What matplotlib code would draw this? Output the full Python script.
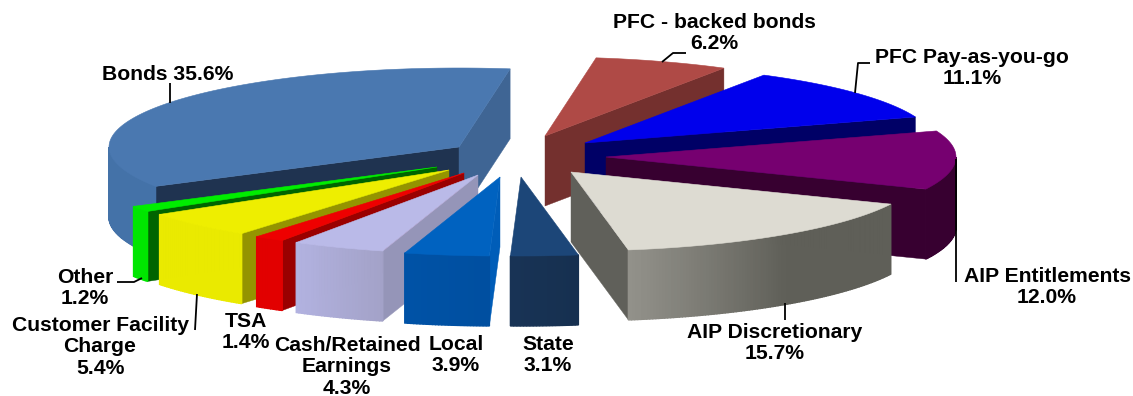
import numpy as np
import matplotlib
matplotlib.use("Agg")
import matplotlib.pyplot as plt
from matplotlib.colors import LinearSegmentedColormap, to_rgb

categories = ["Bonds", "PFC - backed bonds", "PFC Pay-as-you-go", "AIP Entitlements",
              "AIP Discretionary", "State", "Local", "Cash/Retained\nEarnings", "TSA",
              "Customer Facility\nCharge", "Other"]
values = [35.6, 6.2, 11.1, 12.0, 15.7, 3.1, 3.9, 4.3, 1.4, 5.4, 1.2]

# Geometry of the exploded pseudo-3D pie (pixel units of the figure)
BONDS_END = 8.4
CX, CY, RX, RY, DEPTH = 510, 155, 350, 79, 70
offset_x = [-51, 35, 75, 96, 61, 11, -10, -32, -46, -61, -73]
offset_y = [-8, -19, -12, 2, 17, 22, 22, 20, 18, 15, 12]
draw_order = [0, 1, 2, 3, 10, 9, 8, 7, 6, 4, 5]

top_colors = ["#4A78B0", "#AF4A46", "#0000EC", "#760070", "#DDDBD2", "#1C4678",
              "#0062C0", "#BABAE8", "#EE0000", "#EEEE00", "#00EE00"]
cut_colors = ["#3F6594", "#74302E", "#000066", "#370030", "#60605A", "#163050",
              "#005DB8", "#9595B8", "#9A0000", "#949400", "#006400"]
inner_color = "#1F3350"
side_stops = [["#4472A8", "#4472A8"], ["#74302E", "#74302E"], ["#000066", "#000066"],
              ["#370030", "#370030"], ["#5F5F58", "#5F5F58", "#92918A"],
              ["#163050", "#183355"], ["#004FA0", "#0052A6"], ["#A3A2C8", "#B2B2E0"],
              ["#E20000", "#E20000"], ["#EAEA00", "#EAEA00"], ["#00E600", "#00E600"]]

label_x = [168, 714, 972, 1047, 775, 548, 456, 347, 246, 100, 85]
label_y = [74, 33, 68, 287, 343, 355, 355, 367, 332, 347, 288]
labels = [f"{c} {v:.1f}%" if c == "Bonds" else f"{c}\n{v:.1f}%"
          for c, v in zip(categories, values)]

leaders = [[(170, 83), (170, 103)],
           [(662, 62), (673, 53), (686, 53)],
           [(855, 93), (858, 63), (870, 63)],
           [(956, 159), (956, 282)],
           [(785, 303), (785, 320)],
           [(117, 282), (134, 282), (142, 278)],
           [(197, 294), (195, 330)]]

plt.rcParams["font.family"] = ["Liberation Sans", "DejaVu Sans"]
fig = plt.figure(figsize=(11.33, 3.96), dpi=100)
ax = fig.add_axes([0, 0, 1, 1])
ax.set_xlim(0, 1133)
ax.set_ylim(396, 0)
ax.axis("off")

fractions = np.array(values) / sum(values) * 360
ends = BONDS_END - fractions[0] + np.cumsum(fractions)
starts = ends - fractions


def rim(ax_x, ax_y, th):
    r = np.radians(th)
    return ax_x + RX * np.sin(r), ax_y - RY * np.cos(r)


for z, i in enumerate(draw_order):
    a1, a2 = starts[i], ends[i]
    ax0 = CX + offset_x[i]
    ay0 = CY + offset_y[i]
    th = np.linspace(a1, a2, max(int((a2 - a1) * 2), 8))
    xs, ys = rim(ax0, ay0, th)
    base = 10 + z * 10
    # Cut faces: the one at the start angle faces the viewer on the left half,
    # the one at the end angle on the right half
    for angle, sign in ((a1, -1), (a2, 1)):
        if np.sin(np.radians(angle)) * sign > 0:
            col = inner_color if (i == 0 and sign == -1) else cut_colors[i]
            px, py = rim(ax0, ay0, angle)
            ax.fill([ax0, px, px, ax0], [ay0, py, py + DEPTH, ay0 + DEPTH],
                    color=col, lw=0.3, zorder=base)
    # Outer rim with gradient, only the front half
    cmap = LinearSegmentedColormap.from_list("s", [to_rgb(c) for c in side_stops[i]])
    for k in range(len(th) - 1):
        if np.cos(np.radians((th[k] + th[k + 1]) / 2)) < 0:
            t = k / max(len(th) - 2, 1)
            ax.fill([xs[k], xs[k + 1], xs[k + 1], xs[k]],
                    [ys[k], ys[k + 1], ys[k + 1] + DEPTH, ys[k] + DEPTH],
                    color=cmap(t), lw=1.0, zorder=base + 1)
    # Top face
    ax.fill(np.r_[ax0, xs], np.r_[ay0, ys], color=top_colors[i], lw=0.4, zorder=base + 2)

for pts in leaders:
    p = np.array(pts)
    ax.plot(p[:, 0], p[:, 1], color="black", lw=1.3, zorder=300, solid_capstyle="butt")

for x, y, s in zip(label_x, label_y, labels):
    ax.text(x, y, s, ha="center", va="center", fontsize=15.2, fontweight="bold",
            color="black", linespacing=1.15, zorder=400)

fig.savefig("out.png", dpi=100)
